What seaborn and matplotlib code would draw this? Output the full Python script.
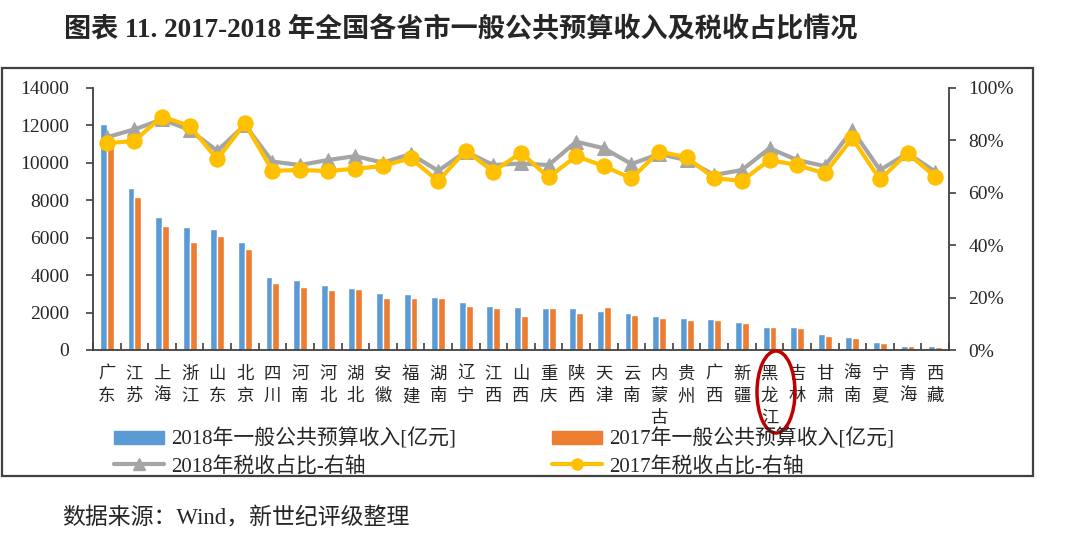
import numpy as np
import pandas as pd
import matplotlib
matplotlib.use("Agg")
import matplotlib.pyplot as plt
import seaborn as sns
from matplotlib.patches import Patch, Rectangle, Ellipse
from matplotlib.lines import Line2D
from matplotlib.ticker import PercentFormatter, MultipleLocator, FixedLocator

provinces = ["广东", "江苏", "上海", "浙江", "山东", "北京", "四川", "河南", "河北", "湖北",
             "安徽", "福建", "湖南", "辽宁", "江西", "山西", "重庆", "陕西", "天津", "云南",
             "内蒙古", "贵州", "广西", "新疆", "黑龙江", "吉林", "甘肃", "海南", "宁夏", "青海", "西藏"]
rev2018 = [12100, 8630, 7100, 6580, 6490, 5770, 3890, 3760, 3500, 3300, 3040, 2980, 2840, 2580,
           2360, 2290, 2250, 2240, 2100, 1980, 1840, 1700, 1650, 1500, 1240, 1210, 830, 700, 410, 240, 210]
rev2017 = [11250, 8160, 6630, 5770, 6090, 5420, 3560, 3380, 3230, 3240, 2780, 2780, 2760, 2370,
           2240, 1840, 2240, 1980, 2290, 1850, 1700, 1580, 1580, 1420, 1210, 1170, 770, 640, 380, 230, 150]
tax2018 = [81.2, 84.2, 88.0, 84.0, 76.0, 85.9, 71.9, 70.6, 72.5, 74.0, 71.5, 74.8, 68.4, 75.7, 70.6,
           71.2, 70.6, 79.5, 77.0, 71.0, 74.8, 72.5, 66.8, 68.7, 77.0, 72.5, 70.2, 84.0, 68.7, 75.1, 68.1]
tax2017 = [78.9, 79.8, 89.1, 85.5, 72.8, 86.5, 68.4, 68.7, 68.3, 69.2, 70.2, 73.2, 64.5, 76.1, 68.1,
           75.3, 65.9, 74.0, 70.2, 65.5, 75.7, 73.6, 65.5, 64.6, 72.5, 70.6, 67.4, 80.8, 65.1, 75.1, 66.2]
left_ticks = [0, 2000, 4000, 6000, 8000, 10000, 12000, 14000]
legend_labels = ["2018年一般公共预算收入[亿元]", "2018年税收占比-右轴",
                 "2017年一般公共预算收入[亿元]", "2017年税收占比-右轴"]
title = "图表 11. 2017-2018 年全国各省市一般公共预算收入及税收占比情况"
source = "数据来源：Wind，新世纪评级整理"

BLUE, ORANGE, GRAY, YELLOW = "#5B9BD5", "#ED7D31", "#A5A5A5", "#FFC000"

sns.set_theme(style="white")
plt.rcParams["font.family"] = ["Liberation Serif", "Noto Sans CJK SC", "DejaVu Sans"]
plt.rcParams["axes.unicode_minus"] = False

n = len(provinces)
df = pd.DataFrame({
    "省份": provinces * 2,
    "年份": ["2018"] * n + ["2017"] * n,
    "收入": rev2018 + rev2017,
})

fig = plt.figure(figsize=(10.8, 5.38), dpi=100)
ax = fig.add_axes([93 / 1080, 1 - 350 / 538, (949 - 93) / 1080, (350 - 88) / 538])

sns.barplot(data=df, x="省份", y="收入", hue="年份", hue_order=["2018", "2017"],
            palette=[BLUE, ORANGE], saturation=1, width=0.5, gap=0, legend=False, ax=ax)
ax.set_xlim(-0.5, n - 0.5)
ax.set_ylim(0, 14000)
ax.set_yticks(left_ticks)
ax.set_xlabel("")
ax.set_ylabel("")
ax.set_xticks(range(n))
ax.set_xticklabels(["\n".join(p) for p in provinces], fontsize=12.5, linespacing=1.5)
ax.xaxis.set_minor_locator(FixedLocator(np.arange(-0.5, n, 1.0)))
ax.tick_params(axis="x", which="major", length=0, pad=12)
ax.tick_params(axis="x", which="minor", length=5, direction="in", color="#404040", width=1.2, bottom=True)
ax.tick_params(axis="y", length=5, direction="out", color="#404040", width=1.2, labelsize=14, pad=12, left=True)
for s in ["top", "right"]:
    ax.spines[s].set_visible(False)
for s in ["left", "bottom"]:
    ax.spines[s].set_color("#404040")
    ax.spines[s].set_linewidth(1.3)

ax2 = ax.twinx()
idx = np.arange(n)
sns.lineplot(x=idx, y=np.array(tax2018) / 100, ax=ax2, color=GRAY, linewidth=3,
             marker="^", markersize=10, markeredgecolor=GRAY, markerfacecolor=GRAY)
sns.lineplot(x=idx, y=np.array(tax2017) / 100, ax=ax2, color=YELLOW, linewidth=3,
             marker="o", markersize=11, markeredgecolor=YELLOW, markerfacecolor=YELLOW)
ax2.set_ylim(0, 1)
ax2.yaxis.set_major_locator(MultipleLocator(0.2))
ax2.yaxis.set_major_formatter(PercentFormatter(1.0, decimals=0))
ax2.tick_params(axis="y", length=5, direction="out", color="#404040", width=1.2, labelsize=14, pad=9, right=True)
ax2.set_xlim(-0.5, n - 0.5)
for s in ["top", "left", "bottom"]:
    ax2.spines[s].set_visible(False)
ax2.spines["right"].set_color("#404040")
ax2.spines["right"].set_linewidth(1.3)

handles = [
    Patch(facecolor=BLUE, edgecolor=BLUE),
    Line2D([0], [0], color=GRAY, lw=3, marker="^", markersize=8, markeredgecolor=GRAY),
    Patch(facecolor=ORANGE, edgecolor=ORANGE),
    Line2D([0], [0], color=YELLOW, lw=3, marker="o", markersize=8, markeredgecolor=YELLOW),
]
fig.legend(handles, legend_labels, ncol=2, loc="upper left",
           bbox_to_anchor=(95 / 1080, 1 - 410 / 538), frameon=False, fontsize=15,
           handlelength=2.4, handleheight=0.6, handletextpad=0.35, columnspacing=4.6,
           labelspacing=0.3)

fig.text(64 / 1080, 1 - 30 / 538, title, fontsize=19.5, fontweight="bold", va="center", ha="left")
fig.text(62 / 1080, 1 - 518 / 538, source, fontsize=16.5, va="center", ha="left")

fig.patches.append(Rectangle((2 / 1080, 1 - 476 / 538), (1033 - 2) / 1080, (476 - 68) / 538,
                             transform=fig.transFigure, fill=False, edgecolor="#404040", linewidth=1.6))
fig.patches.append(Ellipse((776 / 1080, 1 - 392 / 538), 38 / 1080, 82 / 538,
                           transform=fig.transFigure, fill=False, edgecolor="#C00000", linewidth=2.5))

fig.savefig("out.png", dpi=100)
